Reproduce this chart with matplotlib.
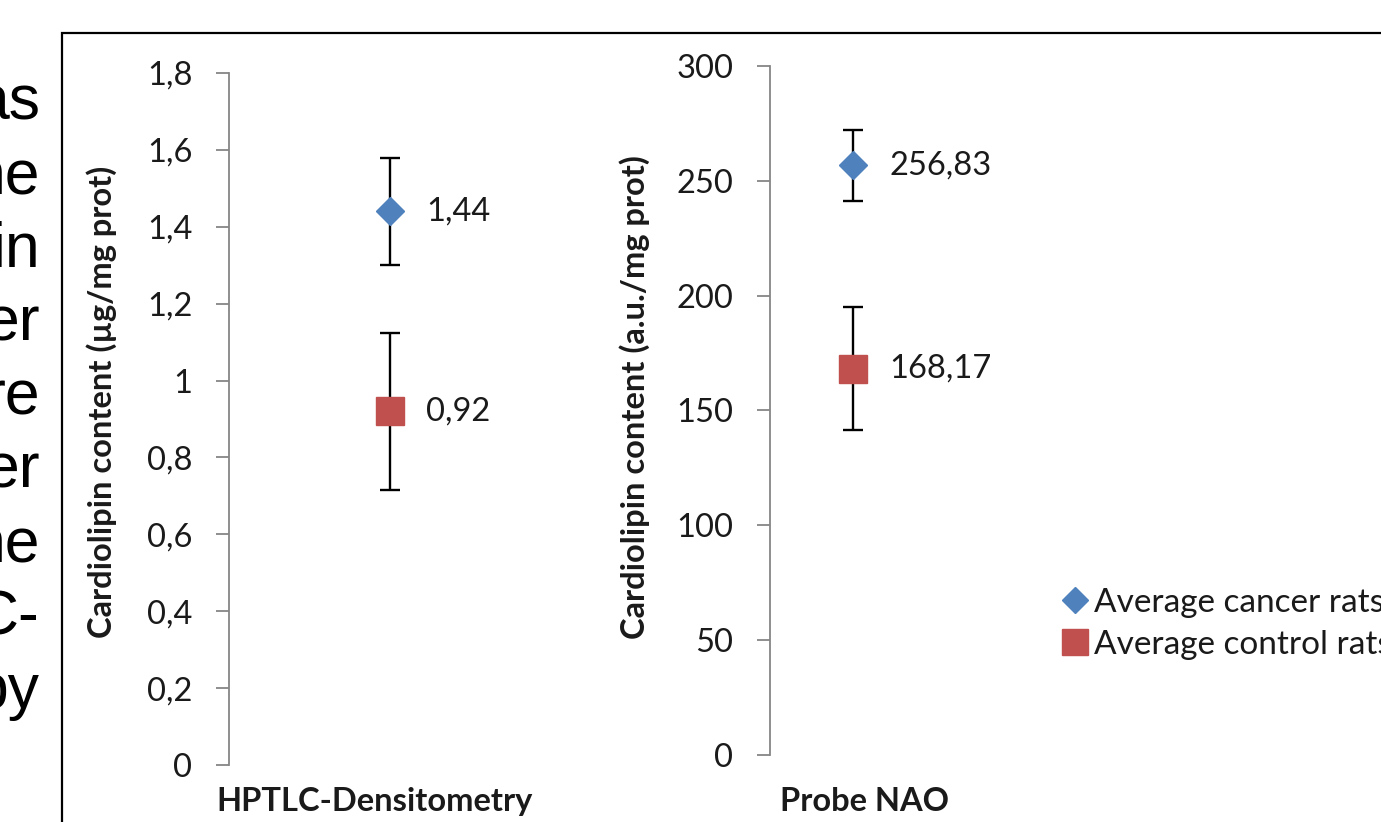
import matplotlib
matplotlib.use("Agg")
import matplotlib.pyplot as plt
from matplotlib.patches import Rectangle
from matplotlib.ticker import FuncFormatter, MultipleLocator

W, H = 1381, 822

# data
methods = ["HPTLC-Densitometry", "Probe NAO"]
y_labels = ["Cardiolipin content (µg/mg prot)", "Cardiolipin content (a.u./mg prot)"]
cancer_mean = [1.44, 256.83]
cancer_err = [0.14, 15.4]
control_mean = [0.92, 168.17]
control_err = [0.205, 26.8]
y_max = [1.8, 300]
y_step = [0.2, 50]
series_names = ["Average cancer rats", "Average control rats"]

# clipped words of the slide text on the left edge
slide_fragments = ["as", "he", "in", "er", "re", "er", "he", "C-", "by"]

BLUE = "#4F81BD"
RED = "#C0504D"
AXIS_GREY = "#868686"
TEXT = "#1a1a1a"
CHART_FONT = "Lato"
FS = 23.5

plt.rcParams["font.family"] = [CHART_FONT, "DejaVu Sans"]


def px_axes(fig, left, top, right, bottom):
    return fig.add_axes([left / W, 1 - bottom / H, (right - left) / W, (bottom - top) / H])


def comma(v, _pos=None):
    return f"{v:g}".replace(".", ",")


fig = plt.figure(figsize=(W / 100, H / 100), dpi=100)

# slide frame around the chart
fig.patches.append(Rectangle((62 / W, -0.1), 1.2, 1 - 33 / H + 0.1, transform=fig.transFigure,
                             fill=False, edgecolor="black", linewidth=1.6))

for i, word in enumerate(slide_fragments):
    baseline = 120 + i * 73.5
    fig.text(40 / W, 1 - baseline / H, word, ha="right", va="baseline",
             fontsize=45, family="Liberation Sans", color="black")

# axes box in pixels, y-label anchor, x-label anchor (axes fractions)
panels = [
    (px_axes(fig, 229, 73, 551, 765), (-0.348, 0.525), (0.453, -0.032)),
    (px_axes(fig, 770, 66, 936, 755), (-0.723, 0.52), (0.572, -0.046)),
]

handles = []
for k, (ax, ylab_at, xlab_at) in enumerate(panels):
    c_can = ax.errorbar([1], [cancer_mean[k]], yerr=[cancer_err[k]], fmt="D", color=BLUE,
                        markersize=14, ecolor="black", elinewidth=1.7, capsize=7.2,
                        capthick=1.7, zorder=3)
    c_con = ax.errorbar([1], [control_mean[k]], yerr=[control_err[k]], fmt="s", color=RED,
                        markersize=20, ecolor="black", elinewidth=1.7, capsize=7.2,
                        capthick=1.7, zorder=3)
    for line in (c_can[0], c_con[0]):
        line.set_zorder(4)
    if k == 1:
        handles = [c_can[0], c_con[0]]

    for mean in (cancer_mean[k], control_mean[k]):
        ax.annotate(comma(mean), (1, mean), xytext=(26, 0), textcoords="offset points",
                    va="center", ha="left", fontsize=FS, color=TEXT)

    ax.set_xlim(0, 2)
    ax.set_ylim(0, y_max[k])
    ax.yaxis.set_major_locator(MultipleLocator(y_step[k]))
    ax.yaxis.set_major_formatter(FuncFormatter(comma))
    ax.set_xticks([])
    ax.set_xlabel(methods[k], fontsize=FS, fontweight="bold", color=TEXT)
    ax.xaxis.set_label_coords(*xlab_at)
    ax.tick_params(axis="y", length=9.4, width=1.3, color=AXIS_GREY, direction="out",
                   labelsize=FS, labelcolor=TEXT, pad=17)
    for side in ("top", "right", "bottom"):
        ax.spines[side].set_visible(False)
    ax.spines["left"].set_color(AXIS_GREY)
    ax.spines["left"].set_linewidth(1.3)
    ax.spines["left"].set_bounds(0, y_max[k])
    ax.set_ylabel(y_labels[k], fontsize=FS, fontweight="bold", color=TEXT)
    ax.yaxis.set_label_coords(*ylab_at)
    ax.patch.set_visible(False)

fig.legend(handles, series_names, loc="center left",
           bbox_to_anchor=(1062 / W, 1 - 624 / H), frameon=False, fontsize=24,
           handlelength=0.8, handletextpad=0.17, labelspacing=0.36, borderpad=0,
           borderaxespad=0, numpoints=1, markerscale=0.95, labelcolor=TEXT)

fig.savefig("out.png", dpi=100)
